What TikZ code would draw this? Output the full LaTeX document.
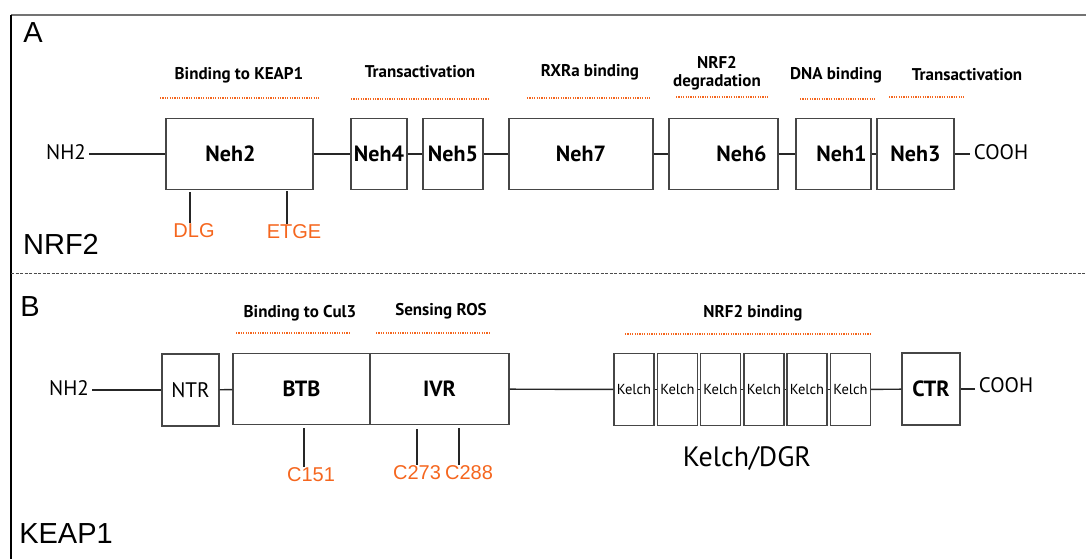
\documentclass[tikz,border=0pt]{standalone}
\usepackage{fontspec}
\setmainfont{PT Sans}
\newfontfamily\arialfont{Liberation Sans}
\usetikzlibrary{positioning,calc}

\definecolor{siteorange}{RGB}{245,102,30}
\definecolor{boxgray}{RGB}{70,70,70}

\tikzset{
  dombox/.style={draw=boxgray, line width=1.25pt, inner sep=0pt, minimum height=71pt,
    font=\bfseries\fontsize{22}{24}\selectfont},
  kelchbox/.style={draw=boxgray, line width=1.25pt, inner sep=0pt, minimum width=40pt,
    minimum height=72pt, font=\fontsize{14.5}{16}\selectfont},
  header/.style={font=\bfseries\fontsize{17}{17.5}\selectfont, align=center},
  terminus/.style={font=\fontsize{21}{24}\selectfont},
  site/.style={text=siteorange, font=\arialfont\fontsize{20}{22}\selectfont, inner sep=1pt},
  panel/.style={font=\arialfont\fontsize{29}{32}\selectfont, inner sep=0pt},
  hdots/.style={siteorange, line width=1.2pt, dash pattern=on 1.2pt off 1.2pt},
  backbone/.style={line width=1.4pt, black!85},
  sitetick/.style={line width=1.3pt, black!85},
}

\begin{document}
\begin{tikzpicture}[x=1pt, y=-1pt]
    \useasboundingbox (0,0) rectangle (1086,559);

    % frame and separator
    \draw[black!55, line width=1.5pt] (11,15) -- (1086,15);
    \draw[line width=1.3pt] (11,15) -- (11,559);
    \draw[black!70, line width=0.9pt, dash pattern=on 3pt off 1.5pt] (11,273) -- (1086,273);

    % A: NRF2
    \node[panel] (labA) at (33,33) {A};
    \node[panel] (nrf2) at (61,244) {NRF2};

    \node[header] (hkeap) at (239,75) {Binding to KEAP1};
    \node[header] (hta1) at (420,72) {Transactivation};
    \node[header] (hrxr) at (590,72) {RXRa binding};
    \node[header] (hdeg) at (717,73) {NRF2\\degradation};
    \node[header] (hdna) at (836,75) {DNA binding};
    \node[header] (hta2) at (967,75) {Transactivation};
    \draw[hdots] (160,98) -- (319,98);
    \draw[hdots] (351,99) -- (488,99);
    \draw[hdots] (527,98) -- (650,98);
    \draw[hdots] (676,97) -- (769,97);
    \draw[hdots] (800,99) -- (875,99);
    \draw[hdots] (889,97) -- (964,97);

    \node[terminus] (nha) at (66,152) {NH2};
    \node[dombox, minimum width=147pt] (neh2) at (239.5,154) {Neh2\hspace*{18pt}};
    \node[dombox, minimum width=56pt] (neh4) at (379,154) {Neh4};
    \node[dombox, minimum width=60pt] (neh5) at (453,154) {Neh5};
    \node[dombox, minimum width=144pt] (neh7) at (581,154) {Neh7};
    \node[dombox, minimum width=109pt] (neh6) at (723.5,154) {\hspace*{36pt}Neh6};
    \node[dombox, minimum width=75pt] (neh1) at (833.5,154) {\hspace*{16pt}Neh1};
    \node[dombox, minimum width=77pt] (neh3) at (915.5,154) {Neh3};
    \node[terminus] (cooha) at (1001,152) {COOH};

    \draw[backbone] (nha.east |- neh2) -- (neh2);
    \draw[backbone] (neh2) -- (neh4);
    \draw[backbone] (neh4) -- (neh5);
    \draw[backbone] (neh5) -- (neh7);
    \draw[backbone] (neh7) -- (neh6);
    \draw[backbone] (neh6) -- (neh1);
    \draw[backbone] (neh1) -- (neh3);
    \draw[backbone] (neh3) -- (cooha.west |- neh3);

    \node[site] (dlg) at (194,231) {DLG};
    \node[site] (etge) at (294,232) {ETGE};
    \coordinate (dlgtick) at (190,192);
    \coordinate (etgetick) at (287,191);
    \draw[sitetick] (dlgtick) -- (dlgtick |- dlg.north);
    \draw[sitetick] (etgetick) -- (etgetick |- etge.north);

    % B: KEAP1
    \node[panel] (labB) at (30,307) {B};
    \node[panel] (keap1) at (66,534) {KEAP1};

    \node[header] (hcul) at (300,313) {Binding to Cul3};
    \node[header] (hros) at (441,311) {Sensing ROS};
    \node[header] (hbind) at (753,313) {NRF2 binding};
    \draw[hdots] (236,333) -- (351,333);
    \draw[hdots] (376,333) -- (491,333);
    \draw[hdots] (625,334) -- (872,334);

    \node[terminus] (nhb) at (69,388) {NH2};
    \node[dombox, minimum width=57pt, minimum height=72pt, font=\fontsize{21}{24}\selectfont] (ntr) at (190.5,390) {NTR};
    \node[dombox, minimum width=137pt] (btb) at (301.5,389) {BTB};
    \node[dombox, minimum width=139pt] (ivr) at (439.5,389) {IVR};
    \foreach \i/\cx in {1/634, 2/677.5, 3/720.5, 4/764, 5/807, 6/850.5}
        \node[kelchbox] (kelch\i) at (\cx,389.5) {Kelch};
    \node[dombox, minimum width=58pt, minimum height=72pt] (ctr) at (931,389) {CTR};
    \node[terminus] (coohb) at (1006,385) {COOH};
    \node[font=\fontsize{28}{30}\selectfont] (dgr) at (747,458) {Kelch/DGR};

    \draw[backbone] (nhb.east |- ntr) -- (ntr);
    \draw[backbone] (ntr) -- (btb);
    \draw[backbone] (ivr) -- (kelch1);
    \foreach \i [evaluate=\i as \j using int(\i+1)] in {1,...,5}
        \draw[backbone] (kelch\i) -- (kelch\j);
    \draw[backbone] (kelch6) -- (ctr);
    \draw[backbone] (ctr) -- (coohb.west |- ctr);

    \node[site] (c151) at (311,475) {C151};
    \node[site] (c273) at (417,473) {C273};
    \node[site] (c288) at (469,473) {C288};
    \coordinate (c151tick) at (304,428);
    \coordinate (c273tick) at (417,429);
    \coordinate (c288tick) at (459,428);
    \draw[sitetick] (c151tick) -- (c151tick |- c151.north);
    \draw[sitetick] (c273tick) -- (c273tick |- c273.north);
    \draw[sitetick] (c288tick) -- (c288tick |- c288.north);
\end{tikzpicture}
\end{document}
